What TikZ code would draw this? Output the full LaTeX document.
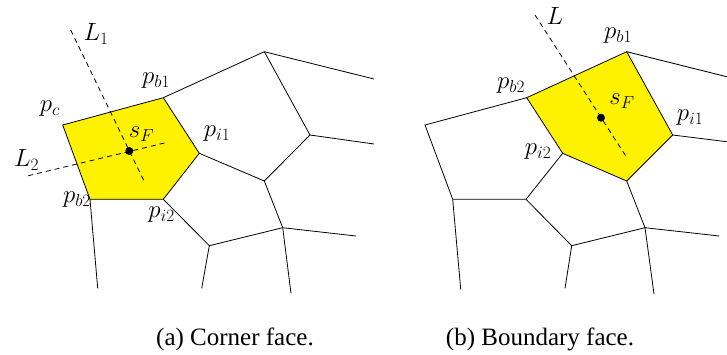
\documentclass[tikz,border=0pt]{standalone}
\usepackage{fontspec}
\setmainfont{Liberation Serif}
\begin{document}
\begin{tikzpicture}[x=1pt,y=-1pt,
  edge/.style={line width=0.8pt},
  face/.style={fill=yellow,draw=black,line width=0.8pt},
  axis/.style={line width=0.8pt,dash pattern=on 5pt off 4pt},
  lbl/.style={inner sep=0pt,font=\fontsize{23.5}{28}\selectfont},
  captext/.style={inner sep=0pt,font=\fontsize{25}{30}\selectfont},
  dotc/.style={circle,fill=black,inner sep=0pt,minimum size=8pt}]
\useasboundingbox (0,0) rectangle (727,354);
% ---------- left panel ----------
\coordinate (pc) at (62.7,125);
\coordinate (pb1) at (163.3,97.7);
\coordinate (pi1) at (199.3,153.3);
\coordinate (pi2) at (163.3,199.3);
\coordinate (pb2) at (90,199.3);
\coordinate (A) at (264.3,51.7);
\coordinate (A1) at (374,79);
\coordinate (B) at (310,135);
\coordinate (B1) at (374,144);
\coordinate (C) at (264.3,181);
\coordinate (D) at (282.7,227.7);
\coordinate (D1) at (356,236);
\coordinate (D2) at (291,293.3);
\coordinate (E) at (209.3,245.7);
\coordinate (E1) at (201.7,288.3);
\coordinate (P1) at (97.7,288.3);
\coordinate (l1a) at (70.7,30);
\coordinate (l1b) at (144.3,181.7);
\coordinate (l2a) at (28.3,175.7);
\coordinate (l2b) at (165.7,142.7);
\draw[face] (pc) -- (pb1) -- (pi1) -- (pi2) -- (pb2) -- cycle;
\draw[edge] (pb1) -- (A) -- (A1);
\draw[edge] (A) -- (B) -- (B1);
\draw[edge] (B) -- (C) -- (pi1);
\draw[edge] (C) -- (D) -- (D1);
\draw[edge] (D) -- (D2);
\draw[edge] (pi2) -- (E) -- (D);
\draw[edge] (E) -- (E1);
\draw[edge] (pb2) -- (P1);
\draw[axis] (l1a) -- (l1b);
\draw[axis] (l2a) -- (l2b);
\node[dotc] (sF) at (129.3,151) {};
\node[lbl] (tL1) at (96,34) {$L_1$};
\node[lbl] (tL2) at (26.5,160) {$L_2$};
\node[lbl] (tpc) at (50,109) {$p_c$};
\node[lbl] (tpb1) at (156,80.5) {$p_{b1}$};
\node[lbl] (tsF) at (141.5,134) {$s_F$};
\node[lbl] (tpi1) at (217,134) {$p_{i1}$};
\node[lbl] (tpb2) at (77,199.5) {$p_{b2}$};
\node[lbl] (tpi2) at (161.5,214.5) {$p_{i2}$};
% ---------- right panel ----------
\coordinate (qb1) at (626.7,51.7);
\coordinate (qb2) at (526.7,97.7);
\coordinate (qi2) at (562.7,153.3);
\coordinate (qbot) at (626.7,181);
\coordinate (qi1) at (672.7,135);
\coordinate (R1) at (726.7,76.7);
\coordinate (R2) at (726.7,141.7);
\coordinate (F) at (425,125);
\coordinate (G) at (452.7,199.3);
\coordinate (H) at (526,199.3);
\coordinate (G1) at (460.7,289.3);
\coordinate (I) at (571.7,245.7);
\coordinate (I1) at (565,288.3);
\coordinate (J) at (645,227.7);
\coordinate (J1) at (719.3,236);
\coordinate (J2) at (654,294);
\coordinate (la) at (535,15);
\coordinate (lb) at (627.3,158.3);
\draw[face] (qb1) -- (qi1) -- (qbot) -- (qi2) -- (qb2) -- cycle;
\draw[edge] (qb1) -- (R1);
\draw[edge] (qi1) -- (R2);
\draw[edge] (qb2) -- (F) -- (G) -- (H) -- (qi2);
\draw[edge] (G) -- (G1);
\draw[edge] (H) -- (I) -- (I1);
\draw[edge] (I) -- (J) -- (qbot);
\draw[edge] (J) -- (J1);
\draw[edge] (J) -- (J2);
\draw[axis] (la) -- (lb);
\node[dotc] (sF2) at (601,117.7) {};
\node[lbl] (tL) at (555,15.5) {$L$};
\node[lbl] (tqb1) at (618,35.5) {$p_{b1}$};
\node[lbl] (tqb2) at (511,85.5) {$p_{b2}$};
\node[lbl] (tsF2) at (622,101) {$s_F$};
\node[lbl] (tqi1) at (690,118) {$p_{i1}$};
\node[lbl] (tqi2) at (538,152) {$p_{i2}$};
% ---------- captions ----------
\node[captext] (capa) at (235,339) {(a) Corner face.};
\node[captext] (capb) at (540,339) {(b) Boundary face.};
\end{tikzpicture}
\end{document}
